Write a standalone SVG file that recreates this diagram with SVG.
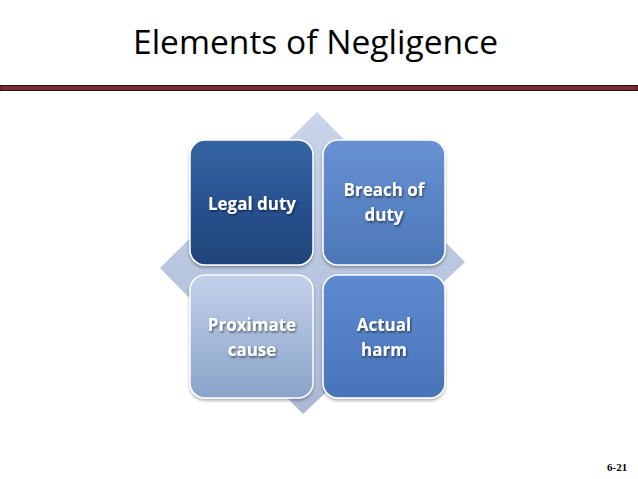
<svg xmlns="http://www.w3.org/2000/svg" width="638" height="479" viewBox="0 0 638 479">
<defs>
<linearGradient id="gDia" x1="0" y1="0" x2="0" y2="1"><stop offset="0" stop-color="#c9d4e8"/><stop offset="1" stop-color="#a9b9d6"/></linearGradient>
<linearGradient id="gLegal" x1="0" y1="0" x2="0" y2="1"><stop offset="0" stop-color="#3565a3"/><stop offset="0.5" stop-color="#285290"/><stop offset="1" stop-color="#1f4478"/></linearGradient>
<linearGradient id="gBreach" x1="0" y1="0" x2="0" y2="1"><stop offset="0" stop-color="#6791d3"/><stop offset="1" stop-color="#4c77b7"/></linearGradient>
<linearGradient id="gProx" x1="0" y1="0" x2="0" y2="1"><stop offset="0" stop-color="#c2d1ea"/><stop offset="1" stop-color="#8aa3c9"/></linearGradient>
<linearGradient id="gHarm" x1="0" y1="0" x2="0" y2="1"><stop offset="0" stop-color="#5f8ad0"/><stop offset="1" stop-color="#4874b8"/></linearGradient>
<filter id="ts" x="-10%" y="-10%" width="130%" height="140%"><feDropShadow dx="1" dy="1.5" stdDeviation="0.8" flood-color="#000" flood-opacity="0.55"/></filter>
<filter id="bs" x="-10%" y="-10%" width="130%" height="130%"><feDropShadow dx="0" dy="2" stdDeviation="1.5" flood-color="#000" flood-opacity="0.3"/></filter>
</defs>
<style>
.title{font-family:"Open Sans","Liberation Sans",sans-serif;font-size:33px;fill:#000}
.lbl{font-family:"Open Sans","Liberation Sans",sans-serif;font-size:17px;font-weight:bold;fill:#fff;text-anchor:middle}
.box{stroke:#fff;stroke-width:1.5;filter:url(#bs)}
.pg{font-family:"Liberation Serif",serif;font-size:11px;font-weight:bold;fill:#000}
</style>
<rect width="638" height="479" fill="#fff"/>
<text class="title" x="133" y="54" textLength="365" lengthAdjust="spacingAndGlyphs">Elements of Negligence</text>
<rect x="0" y="85.5" width="638" height="5" fill="#7a2a3a" stroke="#2a1015" stroke-width="1"/>
<g id="diamond"><polygon points="317,112 465,262 303,414 160,268" fill="url(#gDia)"/></g>
<g id="legal-duty"><rect class="box" x="190" y="140" width="123" height="125" rx="15" fill="url(#gLegal)"/><text class="lbl" x="252" y="210" filter="url(#ts)">Legal duty</text></g>
<g id="breach-of-duty"><rect class="box" x="323" y="140" width="122" height="125" rx="15" fill="url(#gBreach)"/><text class="lbl" x="384" y="196" filter="url(#ts)">Breach of</text><text class="lbl" x="384" y="221" filter="url(#ts)">duty</text></g>
<g id="proximate-cause"><rect class="box" x="190" y="275" width="123" height="123" rx="15" fill="url(#gProx)"/><text class="lbl" x="252" y="331" filter="url(#ts)">Proximate</text><text class="lbl" x="252" y="356" filter="url(#ts)">cause</text></g>
<g id="actual-harm"><rect class="box" x="323" y="275" width="122" height="123" rx="15" fill="url(#gHarm)"/><text class="lbl" x="384" y="331" filter="url(#ts)">Actual</text><text class="lbl" x="384" y="356" filter="url(#ts)">harm</text></g>
<g id="connectors"></g>
<text class="pg" x="607" y="471">6-21</text>
</svg>
